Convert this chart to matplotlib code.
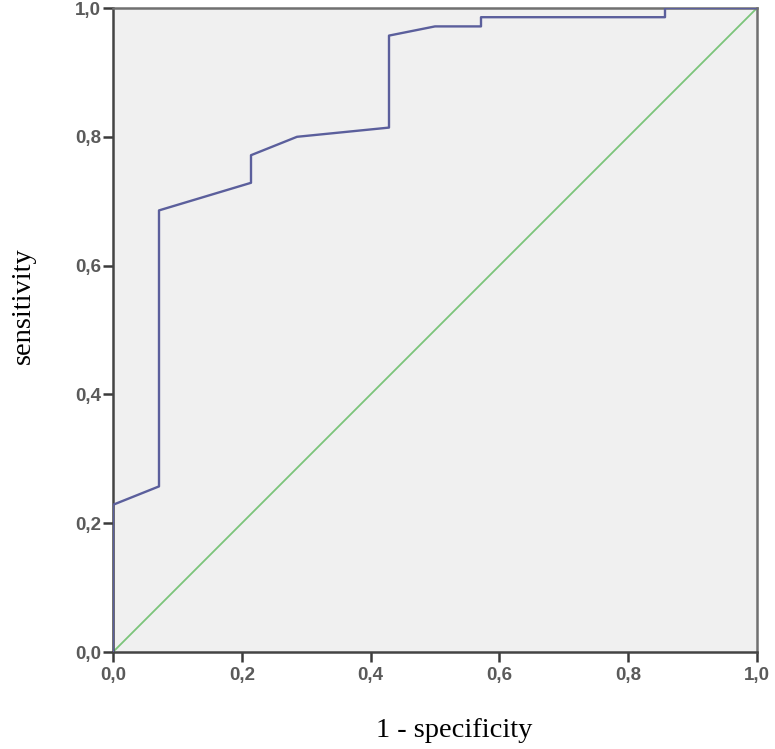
import matplotlib
matplotlib.use("Agg")
import matplotlib.pyplot as plt
from matplotlib.ticker import FuncFormatter

# ROC curve (14 negatives, 70 positives)
fpr = [0, 0, 1/14, 1/14, 3/14, 3/14, 4/14, 6/14, 6/14, 7/14, 8/14, 8/14, 12/14, 12/14, 1]
tpr = [0, 16/70, 18/70, 48/70, 51/70, 54/70, 56/70, 57/70, 67/70, 68/70, 68/70, 69/70, 69/70, 1, 1]
ref = [0, 1]
ticks = [0, 0.2, 0.4, 0.6, 0.8, 1.0]

W, H = 775, 749
fig = plt.figure(figsize=(W / 100, H / 100), dpi=100)
ax = fig.add_axes([113/W, 97/H, 644/W, 644/H])
ax.set_facecolor("#f0f0f0")

ax.plot(ref, ref, color="#7cc47a", lw=1.3, zorder=2)
ax.plot(fpr, tpr, color="#5b5f9c", lw=1.7, zorder=3)

ax.set_xlim(0, 1)
ax.set_ylim(0, 1)
ax.set_xticks(ticks)
ax.set_yticks(ticks)
fmt = FuncFormatter(lambda v, p: f"{v:.1f}".replace(".", ","))
ax.xaxis.set_major_formatter(fmt)
ax.yaxis.set_major_formatter(fmt)
ax.tick_params(direction="out", length=7.5, width=1.8, color="#3a3a3a",
               labelsize=13.5, labelcolor="#5a5a5a")
ax.tick_params(axis="y", pad=1)
ax.tick_params(axis="x", pad=3)
for lab in ax.get_xticklabels() + ax.get_yticklabels():
    lab.set_family("Liberation Sans")
    lab.set_fontweight("bold")

for s in ax.spines.values():
    s.set_color("#707070")
    s.set_linewidth(1.8)
ax.spines["left"].set_color("#444444")
ax.spines["bottom"].set_color("#444444")

# axis titles placed like the original (slightly off-centre)
fig.text(454/W, 1 - 737/H, "1 - specificity", family="Liberation Serif",
         fontsize=20.5, ha="center", va="baseline")
fig.text(23/W, 1 - 306/H, "sensitivity", family="Liberation Serif",
         fontsize=20.5, ha="center", va="center", rotation=90)

fig.savefig("out.png", dpi=100, facecolor="white")
